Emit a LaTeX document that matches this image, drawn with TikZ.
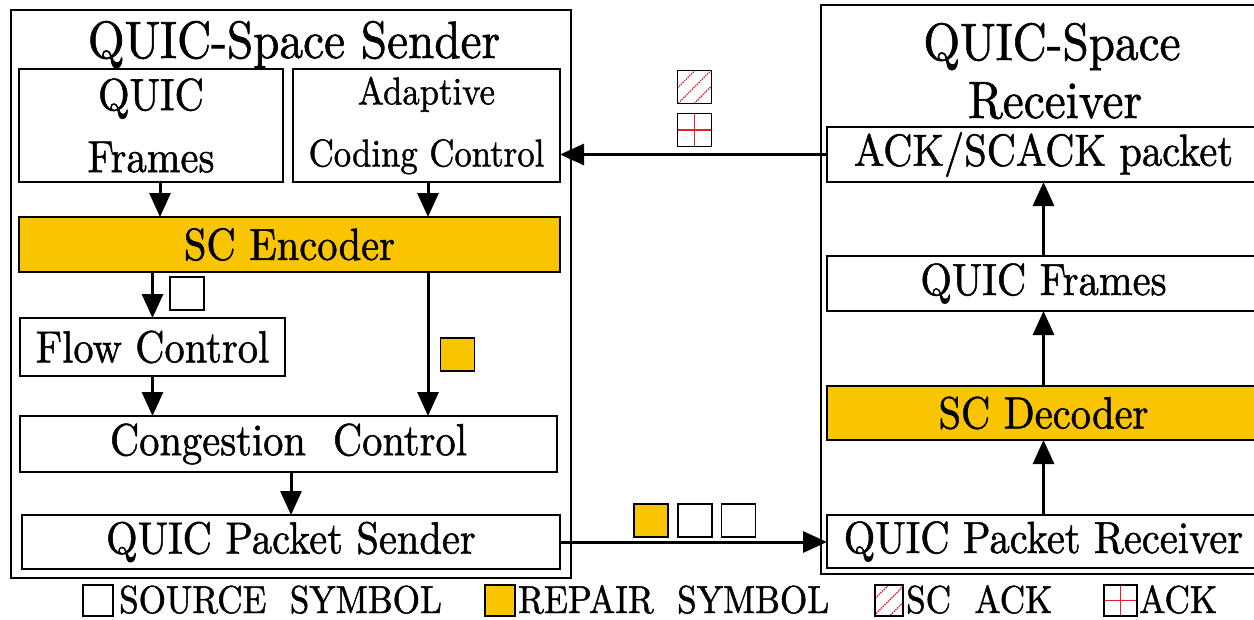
\documentclass[tikz,border=0pt]{standalone}
\usepackage{fontspec}
\usepackage{graphicx}
\setmainfont{lmroman10-regular.otf}[FakeBold=1.2]
\usetikzlibrary{arrows.meta}

\definecolor{scyellow}{RGB}{248,197,0}
\definecolor{ackred}{RGB}{225,35,35}

% slightly condensed lettering
\newcommand{\cond}[1]{\scalebox{0.9}[1]{#1}}

\tikzset{
  frame/.style={draw, line width=2pt, inner sep=0pt, outer sep=0pt},
  box/.style={draw, line width=2pt, inner sep=0pt, outer sep=0pt,
    font=\fontsize{45}{55}\selectfont},
  codec/.style={box, fill=scyellow},
  titletext/.style={font=\fontsize{52.5}{62}\selectfont, inner sep=0pt},
  legendtext/.style={font=\fontsize{39}{46}\selectfont, inner sep=0pt, anchor=base west},
  flowarrow/.style={line width=3pt, -{Triangle[length=24pt,width=21pt]}},
  symbox/.style={draw, line width=1.8pt, inner sep=0pt, outer sep=0pt,
    minimum width=34pt, minimum height=33pt},
  srcsym/.style={symbox, fill=white},
  repsym/.style={symbox, fill=scyellow},
  scacksym/.style={symbox, path picture={
      \foreach \o in {-16,0,16}
        \draw[ackred, densely dotted, line width=1.4pt]
          ([shift={(-18+\o,18)}]path picture bounding box.center) --
          ([shift={(18+\o,-18)}]path picture bounding box.center);}},
  acksym/.style={symbox, path picture={
      \draw[ackred, line width=1.5pt]
        (path picture bounding box.north) -- (path picture bounding box.south)
        (path picture bounding box.west) -- (path picture bounding box.east);}},
}

\begin{document}
\begin{tikzpicture}[x=1pt, y=-1pt]
  \useasboundingbox (0,0) rectangle (1254,619);
  \clip (0,0) rectangle (1254,619);

  % ---------------- sender side ----------------
  \node[frame, minimum width=560pt, minimum height=568pt] (sender) at (291,294) {};
  \node[titletext, anchor=base] (stitle) at (294,58) {\cond{QUIC-Space Sender}};

  \node[box, minimum width=264pt, minimum height=113pt, align=center,
        font=\fontsize{45}{62}\selectfont] (qf) at (151,125.5) {\cond{QUIC}\\\cond{Frames}};
  \node[box, minimum width=267pt, minimum height=113pt, align=center,
        font=\fontsize{38.6}{62}\selectfont] (acc) at (426.5,125.5) {\cond{Adaptive}\\\cond{Coding Control}};
  \node[codec, minimum width=541pt, minimum height=55pt] (enc) at (289.5,244.5) {\cond{SC Encoder}};
  \node[box, minimum width=265pt, minimum height=58pt] (flow) at (152.5,347) {\cond{Flow Control}};
  \node[box, minimum width=537pt, minimum height=56pt] (cong) at (288.5,444) {\cond{Congestion~~Control}};
  \node[box, minimum width=538pt, minimum height=54pt] (spk) at (291,542) {\cond{QUIC Packet Sender}};

  % ---------------- receiver side ----------------
  \node[frame, minimum width=469pt, minimum height=569pt] (receiver) at (1055.5,289.5) {};
  \node[titletext, anchor=base] (rtitleA) at (1052,60) {\cond{QUIC-Space}};
  \node[titletext, anchor=base] (rtitleB) at (1055,118) {\cond{Receiver}};

  \node[box, minimum width=433pt, minimum height=55pt] (ack) at (1043.5,154.5) {\cond{ACK/SCACK packet}};
  \node[box, minimum width=433pt, minimum height=55pt] (rqf) at (1043.5,283.5) {\cond{QUIC Frames}};
  \node[codec, minimum width=433pt, minimum height=54pt] (dec) at (1043.5,413) {\cond{SC Decoder}};
  \node[box, minimum width=433pt, minimum height=53pt] (rpk) at (1043.5,541.5) {\cond{QUIC Packet Receiver}};

  % ---------------- connectors ----------------
  \coordinate (colA) at (160,0);
  \coordinate (colB) at (428,0);
  \draw[flowarrow] (qf.south -| colA) -- (enc.north -| colA);
  \draw[flowarrow] (acc.south -| colB) -- (enc.north -| colB);
  \draw[flowarrow] (enc.south -| flow.north) -- (flow.north);
  \draw[flowarrow] (enc.south -| colB) -- (cong.north -| colB);
  \draw[flowarrow] (flow.south) -- (flow.south |- cong.north);
  \draw[flowarrow] (cong.south -| spk.north) -- (spk.north);
  \draw[flowarrow] (spk.east) -- (spk.east -| rpk.west);
  \draw[flowarrow] (rpk.north) -- (dec.south);
  \draw[flowarrow] (dec.north) -- (rqf.south);
  \draw[flowarrow] (rqf.north) -- (ack.south);
  \draw[flowarrow] (ack.west) -- (ack.west -| acc.east);

  % ---------------- symbols on the links ----------------
  \node[srcsym] (encsrc) at (187,293.5) {};
  \node[repsym] (encrep) at (457.5,354.5) {};
  \node[repsym] (pkrep) at (651,520.5) {};
  \node[srcsym] (pksrcA) at (695,520.5) {};
  \node[srcsym] (pksrcB) at (738.5,520.5) {};
  \node[scacksym] (fbscack) at (694.5,87) {};
  \node[acksym] (fback) at (694.5,130) {};

  % ---------------- legend ----------------
  \node[srcsym, minimum width=30pt, minimum height=31pt] (legsrc) at (98,600.5) {};
  \node[legendtext] (legsrctext) at (119,613) {\cond{SOURCE~~SYMBOL}};
  \node[repsym, minimum width=30pt, minimum height=31pt] (legrep) at (500,600.5) {};
  \node[legendtext] (legreptext) at (518,613) {\cond{REPAIR~~SYMBOL}};
  \node[scacksym, minimum width=28pt, minimum height=31pt] (legscack) at (889,600.5) {};
  \node[legendtext] (legscacktext) at (906,613) {\cond{SC~~ACK}};
  \node[acksym, minimum width=33pt, minimum height=31pt] (legack) at (1120.5,600.5) {};
  \node[legendtext] (legacktext) at (1139,613) {\cond{ACK}};
\end{tikzpicture}
\end{document}
